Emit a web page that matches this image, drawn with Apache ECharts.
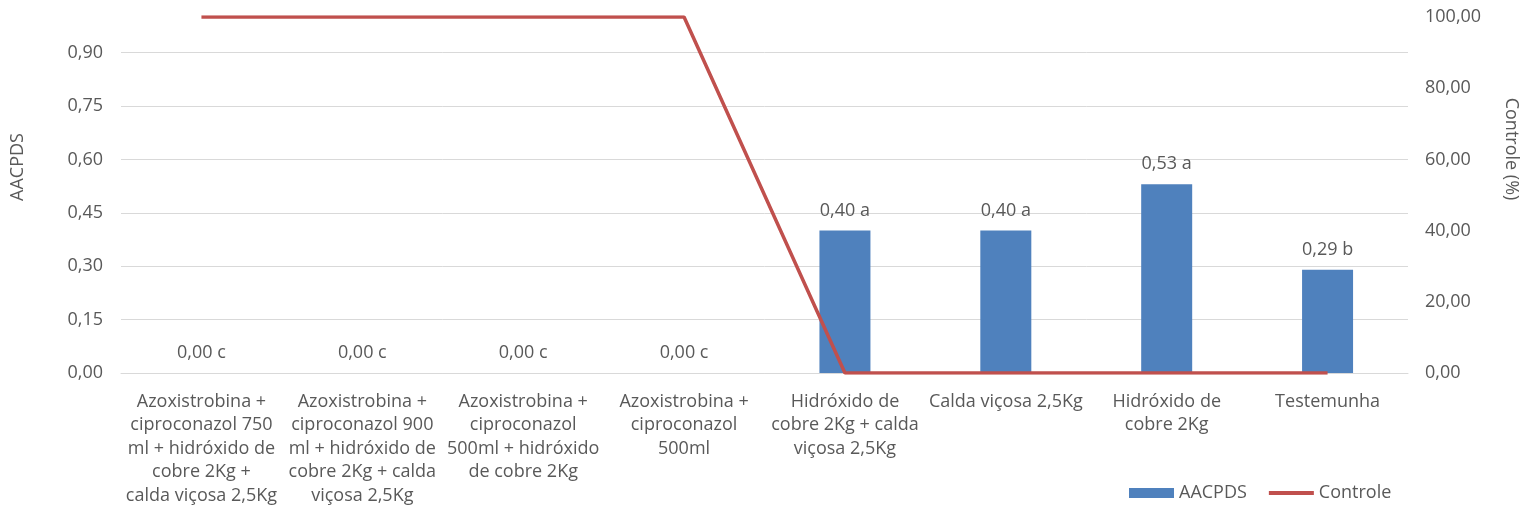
<!DOCTYPE html>
<html>
<head>
<meta charset="utf-8">
<script src="https://cdn.jsdelivr.net/npm/echarts@6/dist/echarts.min.js"></script>
<style>
  html, body { margin: 0; padding: 0; background: #fff; }
  #chart { width: 1531px; height: 517px; }
</style>
</head>
<body>
<div id="chart"></div>
<script>
// Treatments (x-axis categories)
const categories = [
  'Azoxistrobina +\nciproconazol 750\nml + hidróxido de\ncobre 2Kg +\ncalda viçosa 2,5Kg',
  'Azoxistrobina +\nciproconazol 900\nml + hidróxido de\ncobre 2Kg + calda\nviçosa 2,5Kg',
  'Azoxistrobina +\nciproconazol\n500ml + hidróxido\nde cobre 2Kg',
  'Azoxistrobina +\nciproconazol\n500ml',
  'Hidróxido de\ncobre 2Kg + calda\nviçosa 2,5Kg',
  'Calda viçosa 2,5Kg',
  'Hidróxido de\ncobre 2Kg',
  'Testemunha'
];
// AACPDS per treatment (left axis)
const aacpds = [0.00, 0.00, 0.00, 0.00, 0.40, 0.40, 0.53, 0.29];
// Significance letters shown next to each value
const letters = ['c', 'c', 'c', 'c', 'a', 'a', 'a', 'b'];
// Control (%) per treatment (right axis)
const controle = [100, 100, 100, 100, 0, 0, 0, 0];

const FONT = '"Open Sans", sans-serif';
const TXT = '#595959';
const fmt = v => v.toFixed(2).replace('.', ',');

const chart = echarts.init(document.getElementById('chart'));
chart.setOption({
  animation: false,
  backgroundColor: '#fff',
  textStyle: { fontFamily: FONT, color: TXT },
  grid: { left: 121, right: 123, top: 17, bottom: 144, containLabel: false },
  legend: {
    left: 1124, top: 479,
    itemWidth: 45, itemHeight: 10, itemGap: 20,
    textStyle: { fontFamily: FONT, fontSize: 18, color: TXT },
    data: [
      { name: 'AACPDS', icon: 'rect' },
      { name: 'Controle', itemStyle: { opacity: 0 }, lineStyle: { width: 4 } }
    ]
  },
  xAxis: {
    type: 'category',
    data: categories,
    boundaryGap: true,
    axisLine: { show: true, lineStyle: { color: '#D9D9D9', width: 1 } },
    axisTick: { show: false },
    axisLabel: {
      interval: 0, margin: 17,
      fontFamily: FONT, fontSize: 18, color: TXT, lineHeight: 23.5, align: 'center'
    }
  },
  yAxis: [
    {
      type: 'value', min: 0, max: 1.0, interval: 0.15,
      axisLine: { show: false }, axisTick: { show: false },
      axisLabel: { margin: 18, fontFamily: FONT, fontSize: 18, color: TXT, showMaxLabel: false, formatter: fmt },
      splitLine: { show: true, showMaxLine: false, lineStyle: { color: '#D9D9D9', width: 1 } }
    },
    {
      type: 'value', min: 0, max: 100, interval: 20, position: 'right',
      axisLine: { show: false }, axisTick: { show: false },
      axisLabel: { margin: 17, fontFamily: FONT, fontSize: 18, color: TXT, formatter: fmt },
      splitLine: { show: false }
    }
  ],
  graphic: [
    {
      type: 'text', x: 18, y: 167, rotation: Math.PI / 2,
      style: { text: 'AACPDS', fill: TXT, font: '18px ' + FONT, align: 'center', verticalAlign: 'middle' }
    },
    {
      type: 'text', x: 1511, y: 149, rotation: -Math.PI / 2,
      style: { text: 'Controle (%)', fill: TXT, font: '18px ' + FONT, align: 'center', verticalAlign: 'middle' }
    }
  ],
  series: [
    {
      name: 'AACPDS', type: 'bar', yAxisIndex: 0,
      data: aacpds, barWidth: 51,
      itemStyle: { color: '#4F81BD' },
      label: {
        show: true, position: 'top', distance: 11,
        fontFamily: FONT, fontSize: 18, color: TXT,
        formatter: p => fmt(p.value) + ' ' + letters[p.dataIndex]
      }
    },
    {
      name: 'Controle', type: 'line', yAxisIndex: 1,
      data: controle, symbol: 'none', z: 5,
      lineStyle: { color: '#C0504D', width: 3.5 },
      itemStyle: { color: '#C0504D' }
    }
  ]
});
</script>
</body>
</html>
